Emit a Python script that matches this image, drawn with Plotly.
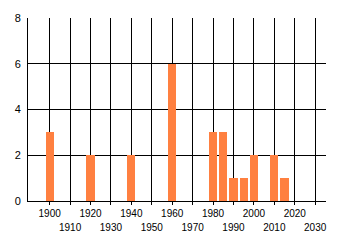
import plotly.graph_objects as go

years = [1900, 1920, 1940, 1960, 1980, 1985, 1990, 1995, 2000, 2010, 2015]
counts = [3, 2, 2, 6, 3, 3, 1, 1, 2, 2, 1]
decades = list(range(1900, 2031, 10))
even_labels = [str(d) if (d // 10) % 2 == 0 else "" for d in decades]
odd_labels = [str(d) if (d // 10) % 2 == 1 else "" for d in decades]
y_ticks = [0, 2, 4, 6, 8]

BAR = "#FF8040"
FONT = dict(family="Liberation Sans, Arial, sans-serif", size=10, color="#000000")

fig = go.Figure()
fig.add_trace(go.Bar(x=years, y=counts, width=4, marker=dict(color=BAR, line=dict(width=0)),
                     xaxis="x", yaxis="y", showlegend=False))
fig.add_trace(go.Scatter(x=[None], y=[None], xaxis="x2", yaxis="y", showlegend=False))

xr = [1889.4, 2035.3]
fig.update_layout(
    width=340, height=245,
    margin=dict(l=28, r=14, t=15, b=44),
    paper_bgcolor="white", plot_bgcolor="white",
    font=FONT,
    bargap=0,
    xaxis=dict(range=xr, tickmode="array", tickvals=decades, ticktext=even_labels,
               showgrid=True, gridcolor="black", gridwidth=1,
               ticks="outside", ticklen=3, tickcolor="black", tickwidth=1,
               showline=True, linecolor="black", linewidth=1,
               zeroline=False, tickfont=FONT, ticklabelstandoff=0),
    xaxis2=dict(range=xr, overlaying="x", anchor="y", side="bottom", tickmode="array",
                tickvals=decades, ticktext=odd_labels, showgrid=False, ticks="",
                showline=False, zeroline=False, tickfont=FONT, ticklabelstandoff=19),
    yaxis=dict(range=[0, 8], tickmode="array", tickvals=y_ticks,
               showgrid=True, gridcolor="black", gridwidth=1,
               showline=True, linecolor="black", linewidth=1,
               ticks="", zeroline=False, tickfont=dict(FONT, size=11), ticklabelstandoff=4),
)
fig.write_html("out.html")
